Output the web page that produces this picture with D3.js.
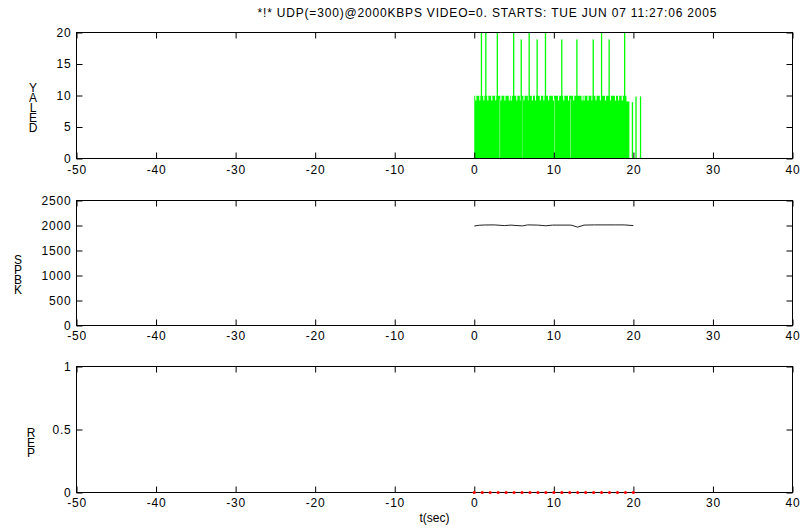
<!DOCTYPE html>
<html>
<head>
<meta charset="utf-8">
<script src="https://cdn.jsdelivr.net/npm/d3@7"></script>
<style>
  html, body { margin: 0; padding: 0; background: #fff; }
  svg { display: block; }
  text { font-family: "Liberation Sans", Arial, sans-serif; fill: #000; }
</style>
</head>
<body>
<svg id="chart" width="803" height="531"></svg>
<script>
// ---- data ----------------------------------------------------------------
const titleText = "*!* UDP(=300)@2000KBPS VIDEO=0. STARTS: TUE JUN 07 11:27:06 2005";
const xTicks = [-50, -40, -30, -20, -10, 0, 10, 20, 30, 40];
const xLabel = "t(sec)";

// DELAY panel: dense packet burst, its small dips, tall spikes and stray samples
const yaledTicks = [0, 5, 10, 15, 20];
const yaledBurst = [0.0, 19.13];          // start / end of the dense burst (sec)
const yaledBurstLevel = 9.95;
const yaledNotches = [0.2, 0.7, 1.2, 1.7, 2.2, 2.7, 3.35, 3.85, 4.4, 4.65, 5.35, 5.8,
  6.25, 6.8, 7.3, 7.7, 8.3, 8.75, 9.35, 9.95, 10.6, 11.25, 11.85, 12.5, 13.55, 13.8,
  14.3, 14.8, 15.3, 15.85, 16.5, 17.1, 17.75, 18.15, 18.6];
const yaledNotchLevel = 9.2;
const yaledTail = [19.13, 19.5, 9.05];    // lower shelf after the burst: from, to, level
const yaledSpikeT = [0.9, 1.45, 2.9, 4.95, 5.9, 6.9, 7.9, 8.95, 11.0, 12.9, 14.95, 16.0, 16.95, 18.9];
const yaledSpikeV = [20, 20, 20, 20, 18.9, 20, 18.9, 20, 18.9, 18.9, 18.9, 20, 18.9, 20];
const yaledStrayT = [19.88, 20.33, 20.9];
const yaledStrayV = [8.95, 9.85, 9.85];
const yaledGapT = [3.2, 6.0, 10.1, 12.1]; // faint breaks inside the burst

// KBPS panel
const kbpsTicks = [0, 500, 1000, 1500, 2000, 2500];
const kbpsT = [0.0, 0.63, 1.26, 2.51, 3.77, 4.61, 5.24, 6.08, 6.7, 7.96, 9.0, 9.85,
  10.9, 12.15, 13.0, 13.8, 15.1, 16.3, 17.6, 18.85, 20.0];
const kbpsV = [1990, 2005, 2010, 2012, 1998, 2008, 2000, 1992, 2012, 2008, 1995, 2008,
  2008, 2008, 1968, 2008, 2012, 2012, 2012, 2012, 1998];

// PER panel
const perTicks = [0, 0.5, 1];
const perT = [0, 1, 2, 3, 4, 5, 6, 7, 8, 9, 10, 11, 12, 13, 14, 15, 16, 17, 18, 19, 20];
const perV = [0, 0, 0, 0, 0, 0, 0, 0, 0, 0, 0, 0, 0, 0, 0, 0, 0, 0, 0, 0, 0];

// ---- layout ----------------------------------------------------------------
const svg = d3.select("#chart");
const left = 76.5, right = 792.5;
const x = d3.scaleLinear().domain([-50, 40]).range([left, right]);
const tickLen = 6;
const fontSize = 12;
// plain ASCII hyphen for negative numbers
const numFmt = d => String(d);

function panel(top, bottom, domain, yTicks, labelLetters, labelX, labelTop, xPad) {
  const y = d3.scaleLinear().domain(domain).range([bottom, top]);
  const g = svg.append("g");
  const axStyle = a => a.call(s => s.select(".domain").remove())
    .call(s => s.selectAll("line").attr("stroke", "#000"))
    .call(s => s.selectAll("text").attr("font-size", fontSize).attr("letter-spacing", "0.8px")
      .attr("font-family", "Liberation Sans, Arial, sans-serif"));

  g.append("g").attr("transform", `translate(0,${bottom})`)
    .call(d3.axisBottom(x).tickValues(xTicks).tickSize(-tickLen).tickPadding(xPad).tickFormat(numFmt))
    .call(axStyle);
  g.append("g").attr("transform", `translate(0,${top})`)
    .call(d3.axisTop(x).tickValues(xTicks).tickSize(-tickLen).tickFormat(""))
    .call(axStyle);
  g.append("g").attr("transform", `translate(${left},0)`)
    .call(d3.axisLeft(y).tickValues(yTicks).tickSize(-tickLen).tickPadding(5).tickFormat(numFmt))
    .call(axStyle);
  g.append("g").attr("transform", `translate(${right},0)`)
    .call(d3.axisRight(y).tickValues(yTicks).tickSize(-tickLen).tickFormat(""))
    .call(axStyle);

  g.append("rect").attr("x", left).attr("y", top)
    .attr("width", right - left).attr("height", bottom - top)
    .attr("fill", "none").attr("stroke", "#000").attr("stroke-width", 1);

  // stacked y-axis label, one letter per line
  const lab = g.append("text").attr("text-anchor", "middle").attr("font-size", fontSize);
  labelLetters.forEach((c, i) => {
    lab.append("tspan").attr("x", labelX).attr("y", labelTop + 8.6 + i * 10).text(c);
  });
  return { g, y };
}

// title
svg.append("text").attr("x", 487).attr("y", 17).attr("text-anchor", "middle")
  .attr("font-size", fontSize).attr("textLength", 459).attr("lengthAdjust", "spacing")
  .text(titleText);

// ---- panel 1: DELAY ---------------------------------------------------------
const p1 = panel(32.5, 158.5, [0, 20], yaledTicks, ["Y", "A", "L", "E", "D"], 33, 83, 7);
{
  const y = p1.y;
  const plot = p1.g.insert("g", ":first-child");
  const green = "#00ff00";
  const hw = 0.07;
  const edge = [[yaledBurst[0], yaledBurstLevel]];
  yaledNotches.forEach(n => {
    edge.push([n - hw, yaledBurstLevel], [n - hw, yaledNotchLevel],
              [n + hw, yaledNotchLevel], [n + hw, yaledBurstLevel]);
  });
  edge.push([yaledBurst[1], yaledBurstLevel], [yaledTail[0], yaledTail[2]], [yaledTail[1], yaledTail[2]]);
  const area = d3.area().x(d => x(d[0])).y0(y(0)).y1(d => y(d[1]));
  plot.append("path").datum(edge).attr("d", area).attr("fill", green);

  plot.selectAll(".gap").data(yaledGapT).join("line")
    .attr("x1", d => x(d)).attr("x2", d => x(d))
    .attr("y1", y(0)).attr("y2", y(9.5))
    .attr("stroke", "#b5f7b5").attr("stroke-width", 0.6);

  plot.selectAll(".spike").data(yaledSpikeT.map((t, i) => [t, yaledSpikeV[i]])).join("line")
    .attr("x1", d => x(d[0])).attr("x2", d => x(d[0]))
    .attr("y1", y(0)).attr("y2", d => y(d[1]))
    .attr("stroke", green).attr("stroke-width", 1.3);

  plot.selectAll(".stray").data(yaledStrayT.map((t, i) => [t, yaledStrayV[i]])).join("line")
    .attr("x1", d => x(d[0])).attr("x2", d => x(d[0]))
    .attr("y1", y(0)).attr("y2", d => y(d[1]))
    .attr("stroke", green).attr("stroke-width", 1.3);
}

// ---- panel 2: KBPS ----------------------------------------------------------
const p2 = panel(200.5, 325.5, [0, 2500], kbpsTicks, ["S", "P", "B", "K"], 18, 255, 6);
{
  const y = p2.y;
  const line = d3.line().x(d => x(d[0])).y(d => y(d[1]));
  p2.g.insert("path", ":first-child").datum(kbpsT.map((t, i) => [t, kbpsV[i]]))
    .attr("d", line).attr("fill", "none").attr("stroke", "#222").attr("stroke-width", 1);
}

// ---- panel 3: PER -----------------------------------------------------------
const p3 = panel(366.5, 492.5, [0, 1], perTicks, ["R", "E", "P"], 31, 428, 6);
{
  const y = p3.y;
  p3.g.append("g").selectAll("circle").data(perT.map((t, i) => [t, perV[i]])).join("circle")
    .attr("cx", d => x(d[0])).attr("cy", d => y(d[1])).attr("r", 1.6).attr("fill", "#ff0000");
}

// x-axis label
svg.append("text").attr("x", (left + right) / 2).attr("y", 522).attr("text-anchor", "middle")
  .attr("font-size", fontSize).text(xLabel);
</script>
</body>
</html>
